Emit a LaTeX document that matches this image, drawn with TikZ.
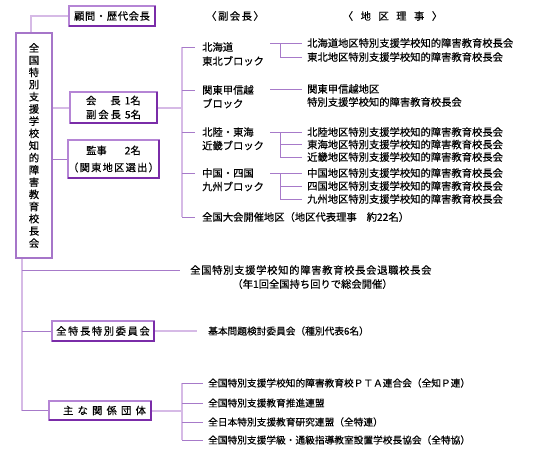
\documentclass[tikz,border=0pt]{standalone}
\usepackage{fontspec}
\setmainfont{Noto Sans CJK JP}[FakeBold=0.4]
\usetikzlibrary{backgrounds}
\definecolor{boxlt}{HTML}{B585D5}
\definecolor{boxdk}{HTML}{7A2CA8}
\definecolor{mainbx}{HTML}{A675C9}
\definecolor{trk}{HTML}{D6BAE6}
\definecolor{twg}{HTML}{A77AC9}
\makeatletter
\newcommand\LS[2]{\def\ls@amt{#1}\ls@first#2\ls@end}
\def\ls@first#1{#1\ls@loop}
\def\ls@loop#1{\ifx#1\ls@end\else\kern\ls@amt\relax#1\expandafter\ls@loop\fi}
\def\ls@end{\ls@end@}
\makeatother
\newcommand\fa{\fontsize{10.3}{13.5}\selectfont}
\newcommand\fb{\fontsize{9.7}{12}\selectfont}
\begin{document}
\begin{tikzpicture}[x=1pt,y=-1pt,
  box/.style={draw=boxlt, line width=1.6pt, fill=white, inner sep=0pt, outer sep=0pt, font=\fa},
  mainbox/.style={draw=mainbx, line width=1.6pt, fill=white, inner sep=0pt, outer sep=0pt, align=center, font=\fontsize{10.3}{12.2}\selectfont},
  dk/.style={draw=boxdk, line width=1.6pt},
  trunk/.style={draw=trk, line width=2pt},
  twig/.style={draw=twg, line width=1pt},
  txt/.style={anchor=west, inner sep=0pt, font=\fa},
  txtb/.style={anchor=west, inner sep=0pt, font=\fb}]
\useasboundingbox (0,0) rectangle (540,450);

% boxes
\node[mainbox, minimum width=36pt, minimum height=225pt] (main) at (34,145.5)
  {全\\国\\特\\別\\支\\援\\学\\校\\知\\的\\障\\害\\教\\育\\校\\長\\会};
\node[box, minimum width=86pt, minimum height=20pt] (komon) at (112,16) {\LS{0.6pt}{顧問・歴代会長}};
\node[box, minimum width=87pt, minimum height=31pt, align=left, font=\fontsize{10.3}{14}\selectfont] (kaicho) at (113.5,107.5)
  {会\kern14pt長\kern4pt1名\\副\kern2pt会\kern2pt長\kern4pt5名};
\node[box, minimum width=87pt, minimum height=38pt, align=center, font=\fontsize{10.3}{17}\selectfont] (kanji) at (113.5,159)
  {監事\kern18pt2名\\\LS{1.2pt}{（関東地区選出）}};
\node[box, minimum width=102pt, minimum height=20pt] (zentoku) at (103,331) {\LS{1.6pt}{全特長特別委員会}};
\node[box, minimum width=102pt, minimum height=19pt] (omo) at (100,410.5) {\kern9pt\LS{4.2pt}{主な関係団体}};
\foreach \b in {komon,kaicho,kanji,zentoku,omo}
  \draw[dk] (\b.north east) -- (\b.south east) -- (\b.south west);

% headers
\node[inner sep=0pt, font=\fa] (hfuku) at (235,16) {\LS{1.5pt}{〈副会長〉}};
\node[inner sep=0pt, font=\fa] (hchiku) at (392.5,16) {\LS{7.5pt}{〈地区理事〉}};

% vice-president blocks
\node[txt] (b1a) at (202,47) {北海道};
\node[txt] (b1b) at (202,61) {東北ブロック};
\node[txt] (b2a) at (202,90) {関東甲信越};
\node[txt] (b2b) at (202,103.5) {ブロック};
\node[txt] (b3a) at (202,132) {北陸・東海};
\node[txt] (b3b) at (202,145.5) {近畿ブロック};
\node[txt] (b4a) at (202,173) {中国・四国};
\node[txt] (b4b) at (202,186.5) {九州ブロック};
\node[txt] (b5) at (202,217) {全国大会開催地区（地区代表理事\kern10pt約22名）};

% regional directors
\node[txt] (r1) at (307,43) {北海道地区特別支援学校知的障害教育校長会};
\node[txt] (r2) at (307,57) {東北地区特別支援学校知的障害教育校長会};
\node[txt] (r3a) at (307,89) {関東甲信越地区};
\node[txt] (r3b) at (307,102) {特別支援学校知的障害教育校長会};
\node[txt] (r4) at (307,132) {北陸地区特別支援学校知的障害教育校長会};
\node[txt] (r5) at (307,144.5) {東海地区特別支援学校知的障害教育校長会};
\node[txt] (r6) at (307,157) {近畿地区特別支援学校知的障害教育校長会};
\node[txt] (r7) at (307,173) {中国地区特別支援学校知的障害教育校長会};
\node[txt] (r8) at (307,186) {四国地区特別支援学校知的障害教育校長会};
\node[txt] (r9) at (307,199) {九州地区特別支援学校知的障害教育校長会};

% lower texts
\node[txt] (t1) at (190,270) {\LS{0.7pt}{全国特別支援学校知的障害教育校長会退職校長会}};
\node[inner sep=0pt, font=\fa] (t2) at (312.5,284) {（年1回全国持ち回りで総会開催）};
\node[txtb] (kihon) at (208,331) {基本問題検討委員会（種別代表6名）};
\node[txtb] (d1) at (208,383) {全国特別支援学校知的障害教育校ＰＴＡ連合会（全知Ｐ連）};
\node[txtb] (d2) at (208,403) {全国特別支援教育推進連盟};
\node[txtb] (d3) at (208,422) {全日本特別支援教育研究連盟（全特連）};
\node[txtb] (d4) at (208,440) {全国特別支援学級・通級指導教室設置学校長協会（全特協）};

\coordinate (tr) at (182,0);
\coordinate (gx) at (270,0);
\coordinate (gv) at (280,0);
\coordinate (bl) at (22,0);

\begin{scope}[on background layer]
\fill[white] (0,0) rectangle (540,450);
% top
\draw[trunk] ([xshift=-3pt]main.north) |- (komon.west);
\draw[trunk] (main.east |- kaicho.west) -- (kaicho.west);
\draw[trunk] (kaicho.east) -- (kaicho.east -| tr);
\draw[twig] (main.east |- kanji.west) -- (kanji.west);
% right trunk
\draw[trunk] (b1a.west -| tr) -- (b5.west -| tr);
\foreach \n in {b1a,b2a,b3a,b4a,b5}
  \draw[twig] (\n.west -| tr) -- ([xshift=-7pt]\n.west);
% groups
\draw[twig] (r1.west -| gx) -- ([xshift=-5pt]r1.west);
\draw[twig] (r1.west -| gv) |- ([xshift=-5pt]r2.west);
\draw[twig] (r3a.west -| gx) -- ([xshift=-5pt]r3a.west);
\draw[twig] (r4.west -| gx) -- ([xshift=-5pt]r4.west);
\draw[twig] (r4.west -| gv) |- ([xshift=-5pt]r6.west);
\draw[twig] (r5.west -| gv) -- ([xshift=-5pt]r5.west);
\draw[twig] (r7.west -| gx) -- ([xshift=-5pt]r7.west);
\draw[twig] (r7.west -| gv) |- ([xshift=-5pt]r9.west);
\draw[twig] (r8.west -| gv) -- ([xshift=-5pt]r8.west);
% bottom
\draw[trunk] (main.south -| bl) -- (omo.west -| bl);
\draw[twig] (t1.west -| bl) -- ([xshift=-10pt]t1.west);
\draw[twig] (zentoku.west -| bl) -- (zentoku.west);
\draw[trunk] (zentoku.east) -- ([xshift=-11pt]kihon.west);
\draw[twig] (omo.west -| bl) -- (omo.west);
\draw[trunk] (omo.east) -- (omo.east -| tr);
\draw[trunk] (d1.west -| tr) -- (d4.west -| tr);
\foreach \n in {d1,d2,d3,d4}
  \draw[twig] (\n.west -| tr) -- ([xshift=-5pt]\n.west);
\end{scope}
\end{tikzpicture}
\end{document}
